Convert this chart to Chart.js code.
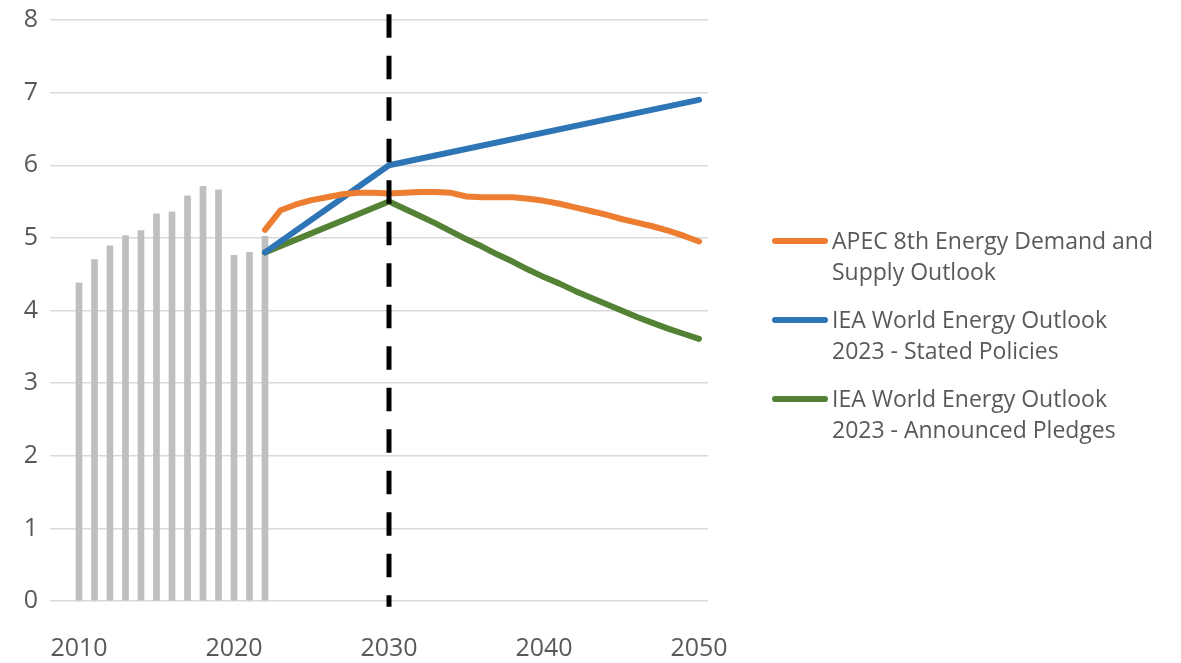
<!DOCTYPE html>
<html>
<head>
<meta charset="utf-8">
<script src="https://cdn.jsdelivr.net/npm/chart.js@4"></script>
<style>
  html, body { margin: 0; padding: 0; background: #fff; }
  #wrap { position: relative; width: 1181px; height: 663px; }
  #legend { position: absolute; left: 772px; top: 225px; font-family: 'Open Sans', sans-serif; font-size: 23px; color: #595959; }
  .item { display: flex; align-items: flex-start; height: 79px; }
  .swatch { width: 56px; height: 6px; border-radius: 3px; margin-top: 12.5px; margin-right: 4px; flex: none; }
  .text { line-height: 31px; white-space: nowrap; }
</style>
</head>
<body>
<div id="wrap">
  <canvas id="myChart" width="1181" height="663"></canvas>
  <div id="legend"></div>
</div>
<script>
// historical bars
var histYears = [2010, 2011, 2012, 2013, 2014, 2015, 2016, 2017, 2018, 2019, 2020, 2021, 2022]
var histValues = [4.38, 4.70, 4.89, 5.03, 5.10, 5.33, 5.36, 5.58, 5.71, 5.66, 4.76, 4.80, 5.02]

// APEC outlook
var apecYears = [2022, 2023, 2024, 2025, 2026, 2027, 2028, 2029, 2030, 2031, 2032, 2033, 2034, 2035,
  2036, 2037, 2038, 2039, 2040, 2041, 2042, 2043, 2044, 2045, 2046, 2047, 2048, 2049, 2050]
var apecValues = [5.11, 5.38, 5.46, 5.52, 5.56, 5.60, 5.62, 5.62, 5.61, 5.62, 5.63, 5.63, 5.62, 5.57,
  5.56, 5.56, 5.56, 5.54, 5.51, 5.47, 5.42, 5.37, 5.32, 5.26, 5.21, 5.16, 5.10, 5.03, 4.95]

// IEA stated policies
var stepsYears = [2022, 2030, 2050]
var stepsValues = [4.8, 6.0, 6.9]

// IEA announced pledges
var apsYears = [2022, 2030, 2031, 2032, 2033, 2034, 2035, 2036, 2037, 2038, 2039, 2040,
  2041, 2042, 2043, 2044, 2045, 2046, 2047, 2048, 2049, 2050]
var apsValues = [4.8, 5.5, 5.4, 5.3, 5.2, 5.09, 4.98, 4.88, 4.77, 4.67, 4.56, 4.46,
  4.37, 4.27, 4.18, 4.09, 4.0, 3.91, 3.83, 3.75, 3.68, 3.61]

var markerYear = 2030
var xTicks = [2010, 2020, 2030, 2040, 2050]
var yMin = 0
var yMax = 8

var seriesNames = [
  ['APEC 8th Energy Demand and', 'Supply Outlook'],
  ['IEA World Energy Outlook', '2023 - Stated Policies'],
  ['IEA World Energy Outlook', '2023 - Announced Pledges'],
]
var seriesColors = ['#ED7D31', '#2E75B6', '#548235']

function pts(xs, ys) {
  return xs.map(function (x, i) { return { x: x, y: ys[i] } })
}

var tickFont = { family: "'Open Sans', sans-serif", size: 25 }
var textColor = '#595959'

function lineSet(i, data) {
  return {
    type: 'line',
    label: seriesNames[i].join(' '),
    data: data,
    borderColor: seriesColors[i],
    backgroundColor: seriesColors[i],
    borderWidth: 6,
    borderCapStyle: 'round',
    borderJoinStyle: 'round',
    pointRadius: 0,
    tension: 0,
    fill: false,
    order: 1,
  }
}

var ctx = document.getElementById('myChart').getContext('2d')
var myChart = new Chart(ctx, {
  type: 'bar',
  data: {
    datasets: [
      {
        type: 'line',
        label: 'marker',
        data: [{ x: markerYear, y: 8.08 }, { x: markerYear, y: -0.08 }],
        borderColor: '#000000',
        borderWidth: 5,
        borderDash: [23.5, 18],
        pointRadius: 0,
        clip: false,
        order: 0,
      },
      lineSet(0, pts(apecYears, apecValues)),
      lineSet(1, pts(stepsYears, stepsValues)),
      lineSet(2, pts(apsYears, apsValues)),
      {
        type: 'bar',
        label: 'history',
        data: pts(histYears, histValues),
        backgroundColor: '#BFBFBF',
        barThickness: 6,
        order: 2,
      },
    ],
  },
  options: {
    responsive: false,
    animation: false,
    layout: { padding: { top: 20, right: 473, left: 0, bottom: 0 } },
    plugins: {
      legend: { display: false },
      tooltip: { enabled: false },
    },
    scales: {
      x: {
        type: 'linear',
        min: 2008.13,
        max: 2050.58,
        offset: false,
        grid: { display: false },
        border: { display: false },
        ticks: {
          font: tickFont, color: textColor, padding: 25, maxRotation: 0, autoSkip: false,
          callback: function (v) { return String(v) },
        },
        afterBuildTicks: function (s) {
          s.ticks = xTicks.map(function (v) { return { value: v } })
        },
        afterFit: function (s) { s.height = 62 },
      },
      y: {
        min: yMin,
        max: yMax,
        ticks: { stepSize: 1, padding: 12, font: tickFont, color: textColor },
        grid: { color: '#D9D9D9', lineWidth: 1.5, drawTicks: false },
        border: { display: false },
        afterFit: function (s) {
          s.width = 50
          s.paddingTop = 0
          s.paddingBottom = 0
        },
      },
    },
  },
})

// legend on the right
var legend = document.getElementById('legend')
seriesNames.forEach(function (lines, i) {
  var item = document.createElement('div')
  item.className = 'item'
  var sw = document.createElement('div')
  sw.className = 'swatch'
  sw.style.background = seriesColors[i]
  var tx = document.createElement('div')
  tx.className = 'text'
  tx.innerHTML = lines.join('<br>')
  item.appendChild(sw)
  item.appendChild(tx)
  legend.appendChild(item)
})
</script>
</body>
</html>
